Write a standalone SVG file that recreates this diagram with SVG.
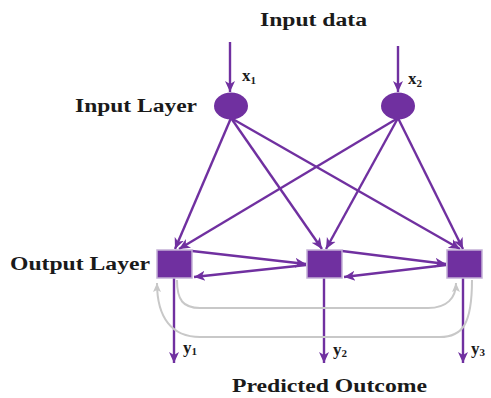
<svg xmlns="http://www.w3.org/2000/svg" width="491" height="398" viewBox="0 0 491 398">
<style>
.t{font-family:"Liberation Serif","Times New Roman",serif;font-weight:bold;font-size:18px;fill:#1a1a1a}
.s{font-family:"Liberation Serif","Times New Roman",serif;font-weight:bold;font-size:17px;fill:#1a1a1a}
.p{stroke:#7030a0;stroke-width:2.4;fill:none}
.g{stroke:#c8c8c8;stroke-width:2;fill:none}
.node{fill:#7030a0}
.sq{fill:#7030a0;stroke:#c3b0d6;stroke-width:1.5}
</style>
<defs>
<marker id="ap" markerUnits="userSpaceOnUse" markerWidth="12" markerHeight="12" viewBox="0 0 12 12" refX="11" refY="6" orient="auto">
<path d="M0,1 L11,6 L0,11 L3,6 Z" fill="#7030a0"/>
</marker>
<marker id="ag" markerUnits="userSpaceOnUse" markerWidth="10" markerHeight="10" viewBox="0 0 10 10" refX="9" refY="5" orient="auto">
<path d="M0,1 L9,5 L0,9 L2,5 Z" fill="#c8c8c8"/>
</marker>
</defs>
<rect width="491" height="398" fill="#ffffff"/>
<g id="labels">
<text class="t" x="260" y="26" textLength="107" lengthAdjust="spacingAndGlyphs">Input data</text>
<text class="t" x="75" y="112" textLength="122" lengthAdjust="spacingAndGlyphs">Input Layer</text>
<text class="t" x="10" y="270" textLength="140" lengthAdjust="spacingAndGlyphs">Output Layer</text>
<text class="t" x="232" y="392" textLength="195" lengthAdjust="spacingAndGlyphs">Predicted Outcome</text>
<text class="s" x="242" y="81">x<tspan font-size="11" dy="3">1</tspan></text>
<text class="s" x="408" y="84">x<tspan font-size="11" dy="3">2</tspan></text>
<text class="s" x="183" y="353">y<tspan font-size="11" dy="2">1</tspan></text>
<text class="s" x="333" y="355">y<tspan font-size="11" dy="2">2</tspan></text>
<text class="s" x="471" y="354">y<tspan font-size="11" dy="2">3</tspan></text>
</g>
<g id="connectors">
<line class="p" x1="230" y1="42" x2="230" y2="92" marker-end="url(#ap)"/>
<line class="p" x1="398" y1="46" x2="398" y2="92" marker-end="url(#ap)"/>
<line class="p" x1="231" y1="118" x2="175" y2="249" marker-end="url(#ap)"/>
<line class="p" x1="231" y1="118" x2="322" y2="249" marker-end="url(#ap)"/>
<line class="p" x1="231" y1="118" x2="460" y2="249" marker-end="url(#ap)"/>
<line class="p" x1="398" y1="118" x2="179" y2="249" marker-end="url(#ap)"/>
<line class="p" x1="398" y1="118" x2="326" y2="249" marker-end="url(#ap)"/>
<line class="p" x1="398" y1="118" x2="463" y2="249" marker-end="url(#ap)"/>
<line class="p" x1="192" y1="251" x2="306" y2="264" marker-end="url(#ap)"/>
<line class="p" x1="306" y1="265" x2="194" y2="277" marker-end="url(#ap)"/>
<line class="p" x1="342" y1="251" x2="446" y2="264" marker-end="url(#ap)"/>
<line class="p" x1="446" y1="265" x2="344" y2="277" marker-end="url(#ap)"/>
<line class="p" x1="174" y1="278" x2="174" y2="363" marker-end="url(#ap)"/>
<line class="p" x1="324" y1="278" x2="324" y2="363" marker-end="url(#ap)"/>
<line class="p" x1="463" y1="278" x2="463" y2="363" marker-end="url(#ap)"/>
<path class="g" d="M177,280 C177,300 183,308 200,308 L428,308 C447,308 456,298 456,283" marker-end="url(#ag)"/>
<path class="g" d="M472,280 C472,325 462,337 440,337 L200,337 C172,337 157,318 157,283" marker-end="url(#ag)"/>
</g>
<g id="in1"><ellipse class="node" cx="231" cy="106" rx="17" ry="13.5"/></g>
<g id="in2"><ellipse class="node" cx="398" cy="106" rx="17" ry="13.5"/></g>
<g id="out1"><rect class="sq" x="157" y="250" width="35" height="28"/></g>
<g id="out2"><rect class="sq" x="307" y="250" width="35" height="28"/></g>
<g id="out3"><rect class="sq" x="447" y="250" width="35" height="28"/></g>
</svg>
